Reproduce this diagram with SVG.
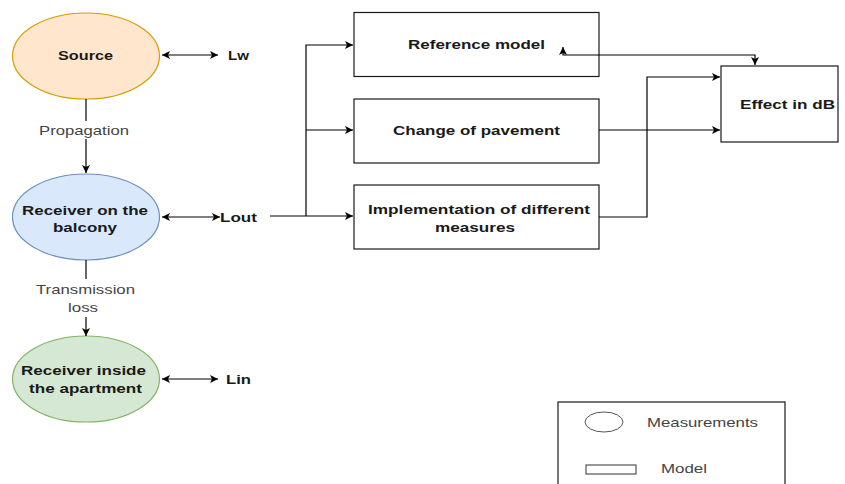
<svg xmlns="http://www.w3.org/2000/svg" width="845" height="484" viewBox="0 0 845 484">
<style>
text{font-family:"Liberation Sans",Arial,sans-serif;dominant-baseline:central;text-anchor:middle}
.b{font-weight:bold;font-size:13.5px;fill:#1a1a1a}
.lbl{font-size:13px;fill:#444}
.box{fill:#fff;stroke:#1a1a1a;stroke-width:1.2}
.c{fill:none;stroke:#000;stroke-width:1.2}
</style>
<defs>
<marker id="ah" markerWidth="10" markerHeight="10" refX="8" refY="4" orient="auto-start-reverse" markerUnits="userSpaceOnUse">
<path d="M0,0 L8,4 L0,8 L2,4 Z" fill="#000"/>
</marker>
</defs>
<g id="source">
<ellipse cx="86" cy="56" rx="73.5" ry="43" fill="#ffe6cc" stroke="#d79b00" stroke-width="1.2"/>
<text class="b" x="85.5" y="55.5" textLength="55" lengthAdjust="spacingAndGlyphs">Source</text>
</g>
<g id="lw"><text class="b" x="238.5" y="55" textLength="21" lengthAdjust="spacingAndGlyphs">Lw</text></g>
<g id="balcony">
<ellipse cx="86" cy="217" rx="73.5" ry="43" fill="#dae8fc" stroke="#6c8ebf" stroke-width="1.2"/>
<text class="b" x="85" y="210" textLength="126" lengthAdjust="spacingAndGlyphs">Receiver on the</text>
<text class="b" x="85" y="227" textLength="64" lengthAdjust="spacingAndGlyphs">balcony</text>
</g>
<g id="lout"><text class="b" x="238.5" y="217" textLength="37" lengthAdjust="spacingAndGlyphs">Lout</text></g>
<g id="inside">
<ellipse cx="86" cy="379" rx="73.5" ry="43" fill="#d5e8d4" stroke="#82b366" stroke-width="1.2"/>
<text class="b" x="83.5" y="370" textLength="125" lengthAdjust="spacingAndGlyphs">Receiver inside</text>
<text class="b" x="85.5" y="388" textLength="113" lengthAdjust="spacingAndGlyphs">the apartment</text>
</g>
<g id="lin"><text class="b" x="238.5" y="379" textLength="25" lengthAdjust="spacingAndGlyphs">Lin</text></g>
<g id="reference">
<rect class="box" x="354" y="12.5" width="245" height="64"/>
<text class="b" x="476.5" y="44.5" textLength="137" lengthAdjust="spacingAndGlyphs">Reference model</text>
</g>
<g id="pavement">
<rect class="box" x="354" y="99" width="245" height="64"/>
<text class="b" x="476.5" y="130.5" textLength="167" lengthAdjust="spacingAndGlyphs">Change of pavement</text>
</g>
<g id="measures">
<rect class="box" x="354" y="185" width="245" height="64"/>
<text class="b" x="479" y="209.5" textLength="222" lengthAdjust="spacingAndGlyphs">Implementation of different</text>
<text class="b" x="475" y="227" textLength="80" lengthAdjust="spacingAndGlyphs">measures</text>
</g>
<g id="effect">
<rect class="box" x="721" y="66" width="117" height="76"/>
<text class="b" x="787.5" y="104" textLength="95" lengthAdjust="spacingAndGlyphs">Effect in dB</text>
</g>
<g id="legend">
<rect x="558" y="402" width="227" height="100" fill="#fff" stroke="#1a1a1a" stroke-width="1.2"/>
<ellipse cx="604" cy="422" rx="19" ry="10" fill="#fff" stroke="#555" stroke-width="1"/>
<text class="lbl" x="702.5" y="422" textLength="111" lengthAdjust="spacingAndGlyphs">Measurements</text>
<rect x="586" y="465" width="50" height="9" fill="#fff" stroke="#333" stroke-width="1"/>
<text class="lbl" x="684" y="468" textLength="46" lengthAdjust="spacingAndGlyphs">Model</text>
</g>
<g id="connectors">
<line class="c" x1="162" y1="55" x2="218" y2="55" marker-start="url(#ah)" marker-end="url(#ah)"/>
<line class="c" x1="86" y1="99" x2="86" y2="173" marker-end="url(#ah)"/>
<rect x="36" y="121" width="96" height="18" fill="#fff"/>
<text class="lbl" x="84" y="130" textLength="90" lengthAdjust="spacingAndGlyphs">Propagation</text>
<line class="c" x1="162" y1="217" x2="220" y2="217" marker-start="url(#ah)" marker-end="url(#ah)"/>
<line class="c" x1="86" y1="260" x2="86" y2="336" marker-end="url(#ah)"/>
<rect x="34" y="279" width="104" height="38" fill="#fff"/>
<text class="lbl" x="85.5" y="289" textLength="99" lengthAdjust="spacingAndGlyphs">Transmission</text>
<text class="lbl" x="83" y="307" textLength="30" lengthAdjust="spacingAndGlyphs">loss</text>
<line class="c" x1="162" y1="379" x2="218" y2="379" marker-start="url(#ah)" marker-end="url(#ah)"/>
<line class="c" x1="270" y1="216" x2="353" y2="216" marker-end="url(#ah)"/>
<polyline class="c" points="306,216 306,45 353,45" marker-end="url(#ah)"/>
<line class="c" x1="306" y1="130" x2="353" y2="130" marker-end="url(#ah)"/>
<line class="c" x1="599" y1="130" x2="720" y2="130" marker-end="url(#ah)"/>
<polyline class="c" points="599,217 647,217 647,77 720,77" marker-end="url(#ah)"/>
<polyline class="c" points="755,65 755,55 563,55 563,47" marker-start="url(#ah)" marker-end="url(#ah)"/>
</g>
</svg>
